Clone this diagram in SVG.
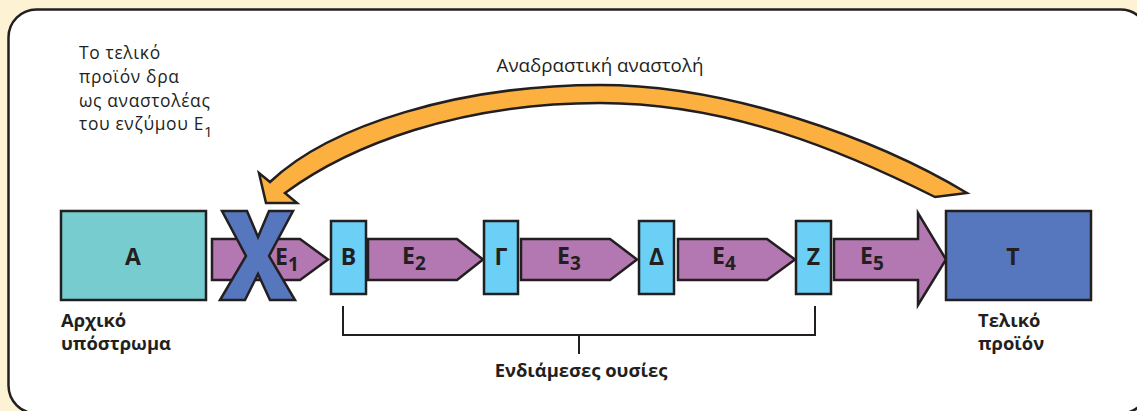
<svg xmlns="http://www.w3.org/2000/svg" width="1137" height="411" viewBox="0 0 1137 411">
<style>
.ln{stroke:#231f20;stroke-width:2.5;stroke-linejoin:miter}
.sub{fill:#6bcff6}
.enz{fill:#b378b2}
.lbl{font-family:"Open Sans","Noto Sans",sans-serif;font-weight:bold;fill:#231f20}
.big{font-size:23px;text-anchor:middle}
.en{font-size:23px}
.cap{font-size:18.4px}
.reg{font-family:"Open Sans","Noto Sans",sans-serif;font-size:18.8px;fill:#231f20}
.note{font-size:17.4px;letter-spacing:0.65px}
</style>
<rect x="0" y="0" width="1137" height="411" fill="#fef2d5"/>
<rect x="8.5" y="9.5" width="1140" height="404" rx="28" ry="28" fill="#ffffff" stroke="#231f20" stroke-width="2.5"/>

<g id="connectors">
  <g id="feedback">
    <path class="ln" fill="#fbb040" d="M270,182 C330,125 460,85 600,85 C730,85 877,139 967,193 L935,197 C845,152 730,103 600,103 C460,103 350,145 285,193 L297,203 L266,203 L259,173 Z"/>
  </g>
  <polygon class="ln enz" points="212,239 300,239 328,259.5 300,280 212,280"/>
  <polygon class="ln enz" points="368,239 457,239 483,259.5 457,280 368,280"/>
  <polygon class="ln enz" points="521,239 610,239 637,259.5 610,280 521,280"/>
  <polygon class="ln enz" points="678,239 767,239 795,259.5 767,280 678,280"/>
  <polygon class="ln enz" points="834,239 918,239 918,213 946,259.5 918,305 918,280 834,280"/>
  <polyline fill="none" stroke="#231f20" stroke-width="2" points="343,306 343,335 815,335 815,306"/>
  <line x1="579" y1="335" x2="579" y2="354" stroke="#231f20" stroke-width="2"/>
</g>

<g id="enzyme-labels">
  <text class="lbl en" x="275" y="265">Ε<tspan dy="6" font-size="19">1</tspan></text>
  <text class="lbl en" x="402" y="264">Ε<tspan dy="6" font-size="19">2</tspan></text>
  <text class="lbl en" x="557" y="264">Ε<tspan dy="6" font-size="19">3</tspan></text>
  <text class="lbl en" x="712" y="264">Ε<tspan dy="6" font-size="19">4</tspan></text>
  <text class="lbl en" x="860" y="264">Ε<tspan dy="6" font-size="19">5</tspan></text>
</g>

<g id="node-A">
  <rect class="ln" x="61" y="211" width="145" height="89" fill="#77cccf"/>
  <text class="lbl big" x="133" y="265">Α</text>
  <text class="lbl cap" x="61" y="327">Αρχικό<tspan x="61" y="350">υπόστρωμα</tspan></text>
</g>

<g id="inhibition-X">
  <polygon class="ln" fill="#5677bd" points="222,211 247,211 258,237 269,211 293,211 269,256 295,300 270,300 258,274 245,300 220,300 246,256"/>
</g>

<g id="node-B">
  <rect class="ln sub" x="331" y="221" width="35" height="73"/>
  <text class="lbl big" x="348.5" y="265">Β</text>
</g>
<g id="node-G">
  <rect class="ln sub" x="484" y="221" width="34" height="73"/>
  <text class="lbl big" x="501" y="265">Γ</text>
</g>
<g id="node-D">
  <rect class="ln sub" x="639" y="221" width="35" height="73"/>
  <text class="lbl big" x="656.5" y="265">Δ</text>
</g>
<g id="node-Z">
  <rect class="ln sub" x="796" y="221" width="35" height="73"/>
  <text class="lbl big" x="813.5" y="265">Ζ</text>
</g>

<g id="node-T">
  <rect class="ln" x="946" y="211" width="145" height="89" fill="#5677bd"/>
  <text class="lbl big" x="1013" y="265">Τ</text>
  <text class="lbl cap" x="978" y="327">Τελικό<tspan x="978" y="350">προϊόν</tspan></text>
</g>

<g id="intermediates-label">
  <text class="lbl cap" x="581" y="377" text-anchor="middle">Ενδιάμεσες ουσίες</text>
</g>

<g id="notes">
  <text class="reg" x="600" y="72" text-anchor="middle">Αναδραστική αναστολή</text>
  <text class="reg note" x="79" y="59">Το τελικό<tspan x="79" y="83">προϊόν δρα</tspan><tspan x="79" y="107">ως αναστολέας</tspan><tspan x="79" y="130">του ενζύμου Ε</tspan><tspan dy="7" font-size="15">1</tspan></text>
</g>
</svg>
